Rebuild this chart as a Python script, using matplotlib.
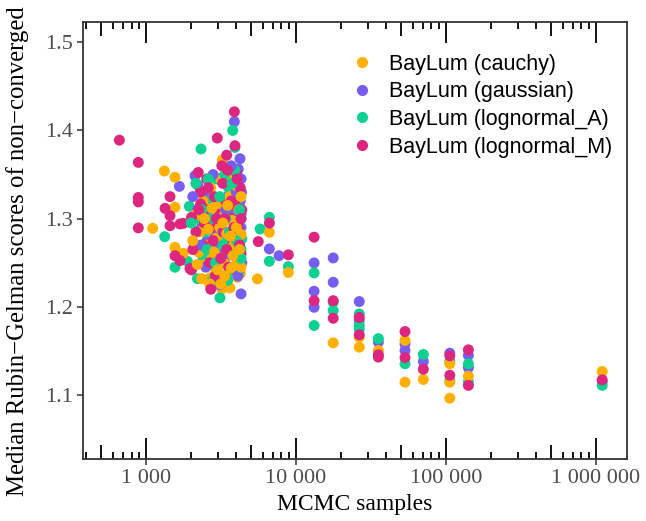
import matplotlib
matplotlib.use("Agg")
import matplotlib.pyplot as plt
from matplotlib.lines import Line2D
from matplotlib.ticker import FuncFormatter, FixedLocator, NullLocator

labels = ["BayLum (cauchy)", "BayLum (gaussian)", "BayLum (lognormal_A)", "BayLum (lognormal_M)"]
colors = ["#FFB000", "#785EF0", "#0CD190", "#DC267F"]

# MCMC samples / median Rubin-Gelman score
cauchy_x = [1325, 1560, 1560, 1108, 1560, 1772, 2670, 3200, 3630, 3230, 2345, 3110, 3200, 3500,
            4060, 4250, 2900, 5530, 6640, 8890, 3450,
            2150, 2250, 2300, 2400, 2480, 2550, 2600, 2700, 2750, 2800, 2950, 3000, 3050, 3100,
            3150, 3300, 3350, 3400, 3450, 3550, 3600, 3700, 3750, 3850, 3950, 4050, 4150, 4300,
            4300, 2350, 2650,
            2050, 2200, 2450, 2600, 2850, 3000, 3250, 3350, 3500, 3650, 3800, 4000, 4200, 4300, 2750, 3150,
            17700, 26400, 26400, 35400, 53300, 53300, 70600, 106000, 106000, 106000, 141000, 1100000]
cauchy_y = [1.354, 1.347, 1.313, 1.289, 1.2675, 1.2607, 1.2328, 1.2204, 1.2215, 1.3665, 1.2902, 1.273, 1.2657, 1.2657,
            1.2335, 1.238, 1.238, 1.2317, 1.2845, 1.239, 1.3475,
            1.305, 1.262, 1.285, 1.320, 1.248, 1.295, 1.270, 1.335, 1.255, 1.300, 1.278, 1.315, 1.258, 1.290,
            1.345, 1.250, 1.305, 1.228, 1.283, 1.262, 1.325, 1.244, 1.298, 1.270, 1.338, 1.252, 1.310, 1.282,
            1.245, 1.232, 1.226,
            1.275, 1.248, 1.300, 1.288, 1.262, 1.242, 1.295, 1.235, 1.315, 1.280, 1.258, 1.290, 1.265, 1.325, 1.312, 1.226,
            1.1592, 1.1656, 1.1543, 1.1505, 1.162, 1.1146, 1.1177, 1.1355, 1.1146, 1.0965, 1.1214, 1.1267]

gaussian_x = [1668, 2120, 2210, 3880, 4230, 4120, 4300, 2540, 4150, 7700, 6640,
              2200, 2350, 2450, 2600, 2750, 2900, 3050, 3200, 3350, 3500, 3650, 3800, 3950, 4100,
              4250, 4300, 4330, 4350, 4300, 3900, 2500, 3100,
              2050, 2300, 2650, 2800, 3000, 3250, 3400, 3600, 3750, 4000, 4200, 4300, 3700, 4100,
              13200, 13200, 13200, 17700, 17700, 26400, 26400, 35400, 53300, 53300, 70600, 106000,
              141000, 141000, 1100000]
gaussian_y = [1.3366, 1.3487, 1.3382, 1.41, 1.368, 1.3563, 1.2147, 1.2743, 1.2543, 1.258, 1.2657,
              1.31, 1.29, 1.33, 1.262, 1.315, 1.28, 1.345, 1.30, 1.255, 1.325, 1.285, 1.34, 1.30, 1.27,
              1.32, 1.29, 1.33, 1.25, 1.305, 1.245, 1.245, 1.225,
              1.325, 1.27, 1.30, 1.35, 1.265, 1.285, 1.31, 1.26, 1.305, 1.33, 1.28, 1.345, 1.36, 1.235,
              1.2498, 1.2177, 1.1995, 1.2555, 1.2279, 1.206, 1.1845, 1.16, 1.158, 1.1505, 1.138, 1.1475,
              1.145, 1.131, 1.115]

lognormal_a_x = [1944, 1332, 1560, 1885, 3785, 2327, 3915, 3330, 3110, 2850, 3630, 4350, 3630, 5760,
                 6640, 6640, 8890,
                 2100, 2250, 2400, 2500, 2650, 2800, 2950, 3050, 3200, 3300, 3450, 3550, 3700, 3850,
                 4000, 4150, 4300, 4300, 2200, 2700, 3350, 3900,
                 2000, 2150, 2350, 2550, 2700, 2900, 3100, 3250, 3400, 3600, 3750, 4000, 4200, 4300, 2600, 3500,
                 13200, 13200, 17700, 17700, 26400, 26400, 26400, 35400, 53300, 70600, 106000, 106000,
                 141000, 141000, 1100000]
lognormal_a_y = [1.314, 1.2796, 1.2449, 1.2517, 1.40, 1.379, 1.3807, 1.3608, 1.2102, 1.2468, 1.239, 1.277, 1.3034, 1.2883,
                 1.3015, 1.2517, 1.2456,
                 1.27, 1.30, 1.255, 1.285, 1.32, 1.268, 1.345, 1.29, 1.31, 1.235, 1.275, 1.335, 1.26, 1.295,
                 1.32, 1.24, 1.30, 1.265, 1.232, 1.228, 1.35, 1.355,
                 1.295, 1.34, 1.31, 1.265, 1.30, 1.25, 1.325, 1.27, 1.30, 1.285, 1.34, 1.275, 1.31, 1.255, 1.345, 1.23,
                 1.2385, 1.1788, 1.2052, 1.1958, 1.192, 1.179, 1.175, 1.164, 1.1355, 1.146, 1.138, 1.1165,
                 1.1355, 1.1147, 1.111]

lognormal_m_x = [664, 888, 888, 888, 888, 1445, 1339, 1445, 1445, 1685, 1772, 1560, 1685, 1963,
                 3880, 2985, 3915, 3450, 2230, 2540, 4030, 2010, 3990, 5600, 6640, 8890, 2310, 2010,
                 2150, 2300, 2400, 2550, 2650, 2750, 2850, 3000, 3100, 3250, 3300, 3400, 3550, 3650,
                 3800, 3950, 4100, 4250, 4300, 4350, 3500, 2900,
                 2050, 2250, 2450, 2600, 2800, 2950, 3150, 3350, 3450, 3700, 3850, 4050, 4200, 4300, 2700, 3200,
                 13200, 13200, 17700, 17700, 26400, 26400, 35400, 35400, 53300, 53300, 70600, 106000,
                 106000, 141000, 141000, 1100000]
lognormal_m_y = [1.389, 1.3638, 1.324, 1.319, 1.2895, 1.325, 1.3117, 1.3034, 1.292, 1.294, 1.2947, 1.258, 1.2524, 1.2434,
                 1.4212, 1.3914, 1.3827, 1.372, 1.3524, 1.345, 1.3506, 1.2419, 1.2411, 1.274, 1.295, 1.259, 1.3166, 1.3015,
                 1.285, 1.33, 1.27, 1.31, 1.25, 1.29, 1.325, 1.265, 1.305, 1.34, 1.285, 1.32, 1.245, 1.30,
                 1.275, 1.315, 1.29, 1.335, 1.26, 1.31, 1.355, 1.235,
                 1.265, 1.31, 1.295, 1.335, 1.275, 1.30, 1.255, 1.30, 1.265, 1.32, 1.29, 1.345, 1.27, 1.30, 1.22, 1.36,
                 1.279, 1.207, 1.207, 1.1871, 1.188, 1.1683, 1.1457, 1.143, 1.172, 1.1425, 1.1293, 1.1445,
                 1.1225, 1.1513, 1.111, 1.1173]

series = [(cauchy_x, cauchy_y), (gaussian_x, gaussian_y),
          (lognormal_a_x, lognormal_a_y), (lognormal_m_x, lognormal_m_y)]

# interleave the series so they overlap like rows of one data frame
all_x, all_y, all_c = [], [], []
n = max(len(s[0]) for s in series)
for i in range(n):
    for k, (sx, sy) in enumerate(series):
        if i < len(sx):
            all_x.append(sx[i])
            all_y.append(sy[i])
            all_c.append(colors[k])

serif = "Liberation Serif"
fig = plt.figure(figsize=(6.46, 5.21), dpi=100)
ax = fig.add_axes([0.1285, 0.119, 0.8421, 0.8388])

ax.scatter(all_x, all_y, c=all_c, s=62, linewidths=0, zorder=3)

ax.set_xscale("log")
ax.set_xlim(380, 1610000)
ax.set_ylim(1.0275, 1.523)

ax.xaxis.set_major_locator(FixedLocator([1e3, 1e4, 1e5, 1e6]))
ax.xaxis.set_minor_locator(NullLocator())
ax.xaxis.set_major_formatter(FuncFormatter(lambda v, p: "{:,}".format(int(round(v))).replace(",", " ")))
ax.set_yticks([1.1, 1.2, 1.3, 1.4, 1.5])
ax.yaxis.set_major_formatter(FuncFormatter(lambda v, p: "%.1f" % v))

ax.tick_params(axis="both", direction="out", length=4.5, width=1.1, color="#333333",
               labelcolor="#4D4D4D", labelsize=16, pad=3)
for lab in ax.get_xticklabels() + ax.get_yticklabels():
    lab.set_family(serif)

for sp in ax.spines.values():
    sp.set_linewidth(1.3)
    sp.set_color("#333333")

# log ticks along bottom and top, inside the panel
trans = ax.get_xaxis_transform()
for dec in [100, 1000, 10000, 100000, 1000000]:
    for m in range(1, 10):
        v = dec * m
        if v < 380 or v > 1610000:
            continue
        h = 0.048 if m == 1 else (0.032 if m == 5 else 0.016)
        ax.plot([v, v], [0, h], transform=trans, color="black", lw=1.3, solid_capstyle="butt", zorder=2)
        ax.plot([v, v], [1, 1 - h], transform=trans, color="black", lw=1.3, solid_capstyle="butt", zorder=2)

ax.set_xlabel("MCMC samples", family=serif, fontsize=17, labelpad=4)
ax.set_ylabel("Median Rubin\u2212Gelman scores of non\u2212converged", family=serif, fontsize=17.8, labelpad=6)
ax.yaxis.set_label_coords(-0.1, 0.475)

handles = [Line2D([], [], ls="none", marker="o", markersize=8, color=c, markeredgewidth=0) for c in colors]
ax.legend(handles, labels, loc="upper left", bbox_to_anchor=(0.5437, 0.897), bbox_transform=fig.transFigure,
          frameon=False, borderpad=0, borderaxespad=0, handlelength=1.0, handletextpad=0.75,
          labelspacing=0.31, prop={"family": "Liberation Sans", "size": 15.5})

fig.savefig("out.png", dpi=100)
